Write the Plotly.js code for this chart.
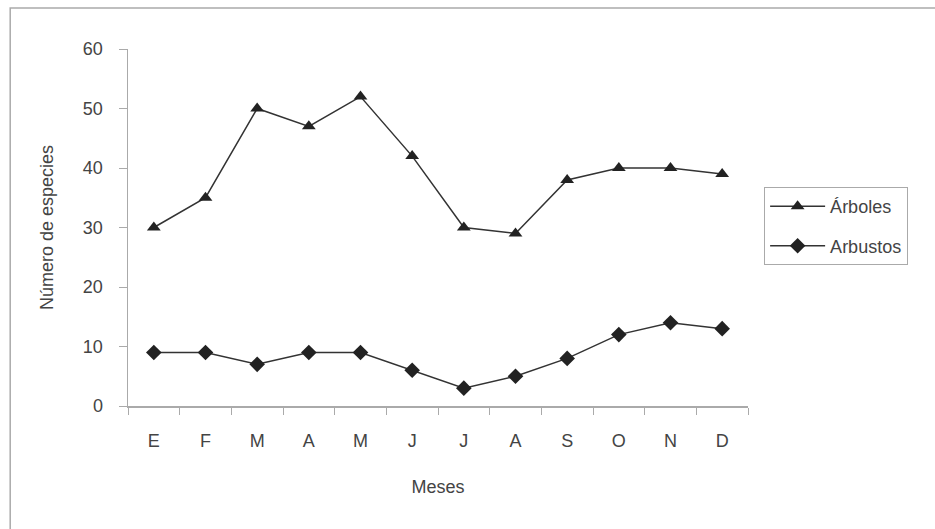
<!DOCTYPE html>
<html><head><meta charset="utf-8">
<script src="https://cdn.plot.ly/plotly-3.0.1.min.js"></script>
<style>html,body{margin:0;padding:0;background:#fff;}#chart{width:935px;height:529px;}</style>
</head><body><div id="chart"></div>
<script>
const meses = ["E","F","M","A","M ","J","J ","A ","S","O","N","D"];
const mesesLabels = ["E","F","M","A","M","J","J","A","S","O","N","D"];
const arboles = [30,35,50,47,52,42,30,29,38,40,40,39];
const arbustos = [9,9,7,9,9,6,3,5,8,12,14,13];
const yTicks = [0,10,20,30,40,50,60];

const font = {family:"Liberation Sans, Arial, sans-serif", size:18, color:"#444"};
const traces = [
  {x:meses, y:arboles, name:"Árboles", legendgroup:"a", mode:"lines+markers", type:"scatter",
   line:{color:"#333", width:1.5}, marker:{symbol:"triangle-up", size:12, color:"#222"}},
  {x:meses, y:arbustos, name:"Arbustos", legendgroup:"b", mode:"lines+markers", type:"scatter",
   line:{color:"#333", width:1.5}, marker:{symbol:"diamond", size:12, color:"#222"}}
];
const layout = {
  width:935, height:529,
  margin:{l:128, r:187, t:49, b:123},
  paper_bgcolor:"#fff", plot_bgcolor:"#fff",
  font:font, showlegend:true,
  xaxis:{type:"category", tickvals:meses, ticktext:mesesLabels, tickson:"boundaries",
    range:[-0.5, 11.5], autorange:false,
    ticks:"outside", ticklen:7, tickcolor:"#aaa", showline:true, linecolor:"#aaa", linewidth:1.5,
    showgrid:false, zeroline:false, tickfont:font, ticklabelstandoff:18,
    title:{text:"Meses", font:font, standoff:30}},
  yaxis:{range:[0,60], autorange:false, tickvals:yTicks, ticks:"outside", ticklen:8, tickcolor:"#aaa",
    showline:true, linecolor:"#aaa", linewidth:1.5, showgrid:false, zeroline:false,
    tickfont:font, ticklabelstandoff:12, title:{text:"Número de especies", font:font, standoff:24}},
  legend:{x:1.026, xanchor:"left", y:0.613, yanchor:"top", bordercolor:"#aaa", borderwidth:1,
    font:font, bgcolor:"#fff", traceorder:"grouped", tracegroupgap:13, itemwidth:55},
  shapes:[{type:"rect", xref:"paper", yref:"paper", x0:-0.19, x1:1.6, y0:-0.4, y1:1.115,
    line:{color:"#aaa", width:1.5}, fillcolor:"rgba(0,0,0,0)", layer:"below"}]
};
Plotly.newPlot("chart", traces, layout, {displayModeBar:false, staticPlot:true});
</script></body></html>
